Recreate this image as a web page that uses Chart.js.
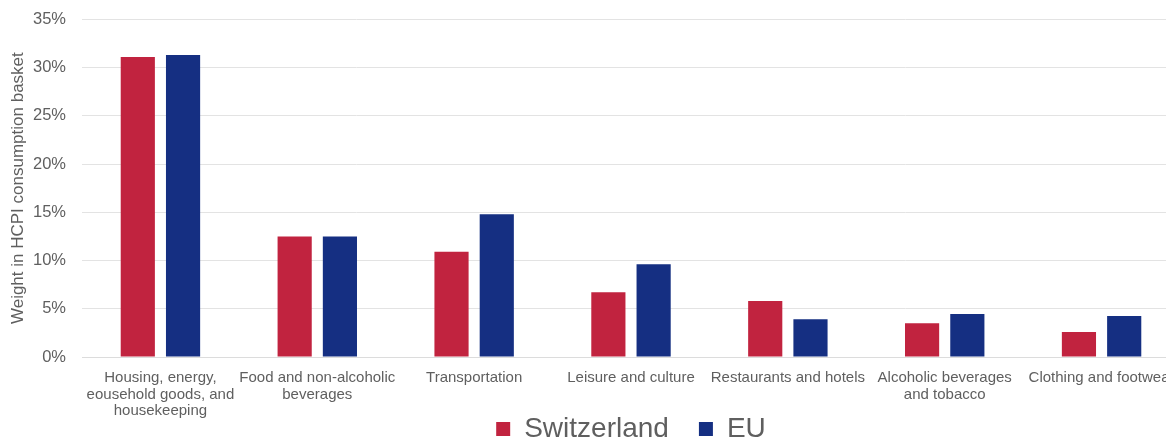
<!DOCTYPE html>
<html>
<head>
<meta charset="utf-8">
<script src="https://cdn.jsdelivr.net/npm/chart.js@4"></script>
<style>
  html, body { margin: 0; padding: 0; background: #fff; overflow: hidden; }
  #wrap { width: 1180px; height: 453px; }
</style>
</head>
<body>
<div id="wrap"><canvas id="basket-chart"></canvas></div>
<script>
// HCPI basket weights by category, in percent
const categories = [
  ["Housing, energy,", "eousehold goods, and", "housekeeping"],
  ["Food and non-alcoholic", "beverages"],
  "Transportation",
  "Leisure and culture",
  "Restaurants and hotels",
  ["Alcoholic beverages", "and tobacco"],
  "Clothing and footwear"
];
const switzerland = [31.1, 12.5, 10.9, 6.7, 5.8, 3.5, 2.6];
const eu = [31.3, 12.5, 14.8, 9.6, 3.9, 4.45, 4.25];
const yTicks = [0, 5, 10, 15, 20, 25, 30, 35];

const gray = "#5f5f5f";
Chart.defaults.font.family = "'Liberation Sans', Arial, sans-serif";

// let the category labels hang down into the legend band without being clipped
const labelRoom = {
  id: "labelRoom",
  afterLayout(chart) { chart.scales.x.bottom = chart.height; }
};

new Chart(document.getElementById("basket-chart"), {
  type: "bar",
  data: {
    labels: categories,
    datasets: [
      { label: "Switzerland", data: switzerland, backgroundColor: "#C1233F",
        categoryPercentage: 0.577, barPercentage: 0.755 },
      { label: "EU", data: eu, backgroundColor: "#152F82",
        categoryPercentage: 0.577, barPercentage: 0.755 }
    ]
  },
  options: {
    responsive: true,
    maintainAspectRatio: false,
    animation: false,
    layout: { padding: { top: 0, left: 6, right: 0, bottom: 0 } },
    scales: {
      x: {
        grid: { display: false },
        border: { color: "#dcdcdc" },
        ticks: { color: gray, font: { size: 15, lineHeight: 1.1 }, maxRotation: 0,
                 autoSkip: false, padding: 5 },
        afterFit: (scale) => { scale.height = 28; }
      },
      y: {
        min: 0,
        max: 35,
        afterBuildTicks: (axis) => { axis.ticks = yTicks.map(v => ({ value: v })); },
        afterFit: (scale) => { scale.width = 76; },
        grid: { color: "#e3e3e3", drawTicks: false },
        border: { display: false },
        // small lineHeight keeps the top label from pushing the plot down
        ticks: { color: gray, font: { size: 16.5, lineHeight: 0.4 }, padding: 16,
                 callback: (v) => v + "%" },
        title: { display: true, text: "Weight in HCPI consumption basket", color: gray,
                 font: { size: 17 }, padding: { top: 2, bottom: 2 } }
      }
    },
    plugins: {
      legend: {
        position: "bottom",
        fullSize: false,
        labels: { color: gray, font: { size: 28 }, boxWidth: 14, boxHeight: 14, padding: 30 }
      },
      tooltip: { enabled: false }
    }
  },
  plugins: [labelRoom]
});
</script>
</body>
</html>
